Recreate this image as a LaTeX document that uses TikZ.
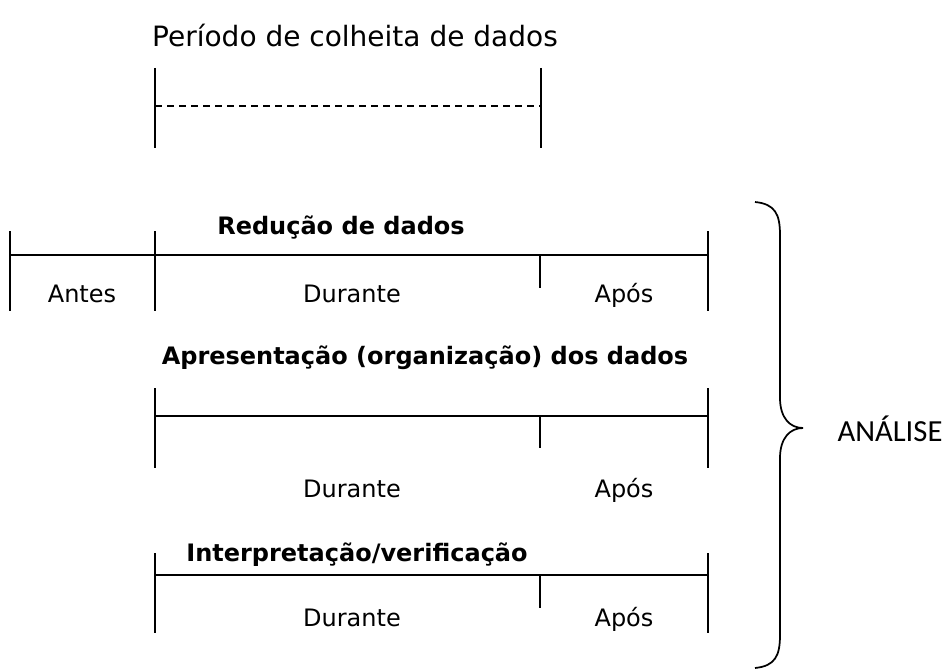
\documentclass[tikz,border=0pt]{standalone}
\usepackage{fontspec}
\setmainfont{DejaVu Sans}
\newfontfamily\carlitofont{Carlito}
\begin{document}
\begin{tikzpicture}[x=0.75pt,y=-0.75pt,
  bar/.style={line width=1.4pt,black},
  lbl/.style={anchor=base,inner sep=0pt,font=\fontsize{18pt}{20pt}\selectfont},
  ttl/.style={anchor=base,inner sep=0pt,font=\fontsize{18pt}{20pt}\selectfont\bfseries},
  brace/.style={line width=1.3pt,black}]
\useasboundingbox (0,0) rectangle (948,670);

% Top: data collection period
\node[anchor=base,inner sep=0pt,font=\fontsize{21pt}{24pt}\selectfont] (ptitle) at (355,47) {Período de colheita de dados};
\coordinate (pat) at (155,68); \coordinate (pab) at (155,148);
\coordinate (pbt) at (541,68); \coordinate (pbb) at (541,148);
\coordinate (pdl) at (155,106); \coordinate (pdr) at (541,106);
\draw[bar] (pat) -- (pab);
\draw[bar] (pbt) -- (pbb);
\draw[line width=1.2pt,dash pattern=on 5pt off 4pt] (pdl) -- (pdr);

% Row 1: Reducao de dados
\node[ttl] (rtitle) at (341,234) {Redução de dados};
\coordinate (r0t) at (10,231);  \coordinate (r0b) at (10,311);
\coordinate (r1t) at (155,231); \coordinate (r1b) at (155,311);
\coordinate (r3t) at (708,231); \coordinate (r3b) at (708,311);
\coordinate (rhl) at (10,255);  \coordinate (rhr) at (708,255);
\coordinate (r2t) at (540,255); \coordinate (r2b) at (540,288);
\draw[bar] (r0t) -- (r0b);
\draw[bar] (r1t) -- (r1b);
\draw[bar] (r3t) -- (r3b);
\draw[bar] (rhl) -- (rhr);
\draw[bar] (r2t) -- (r2b);
\node[lbl] (rantes) at (82,302) {Antes};
\node[lbl] (rdur) at (352,302) {Durante};
\node[lbl] (rapos) at (624,302) {Após};

% Row 2: Apresentacao
\node[ttl] (atitle) at (425,364) {Apresentação (organização) dos dados};
\coordinate (a1t) at (155,388); \coordinate (a1b) at (155,468);
\coordinate (a3t) at (708,388); \coordinate (a3b) at (708,468);
\coordinate (ahl) at (155,416); \coordinate (ahr) at (708,416);
\coordinate (a2t) at (540,416); \coordinate (a2b) at (540,448);
\draw[bar] (a1t) -- (a1b);
\draw[bar] (a3t) -- (a3b);
\draw[bar] (ahl) -- (ahr);
\draw[bar] (a2t) -- (a2b);
\node[lbl] (adur) at (352,497) {Durante};
\node[lbl] (aapos) at (624,497) {Após};

% Row 3: Interpretacao
\node[ttl] (ititle) at (357,561) {Interpretação/verificação};
\coordinate (i1t) at (155,553); \coordinate (i1b) at (155,633);
\coordinate (i3t) at (708,553); \coordinate (i3b) at (708,633);
\coordinate (ihl) at (155,575); \coordinate (ihr) at (708,575);
\coordinate (i2t) at (540,575); \coordinate (i2b) at (540,608);
\draw[bar] (i1t) -- (i1b);
\draw[bar] (i3t) -- (i3b);
\draw[bar] (ihl) -- (ihr);
\draw[bar] (i2t) -- (i2b);
\node[lbl] (idur) at (352,626) {Durante};
\node[lbl] (iapos) at (624,626) {Após};

% Brace
\coordinate (bt) at (755,202);
\coordinate (btip) at (803,428);
\coordinate (bb) at (755,668);
\draw[brace] (bt) .. controls (775,204) and (780,214) .. (780,235)
  -- (780,398) .. controls (780,418) and (790,428) .. (btip)
  .. controls (790,428) and (780,438) .. (780,458)
  -- (780,635) .. controls (780,656) and (775,666) .. (bb);
\node[anchor=base,inner sep=0pt,font=\carlitofont\fontsize{23pt}{26pt}\selectfont] (analise) at (890,441) {ANÁLISE};
\end{tikzpicture}
\end{document}
